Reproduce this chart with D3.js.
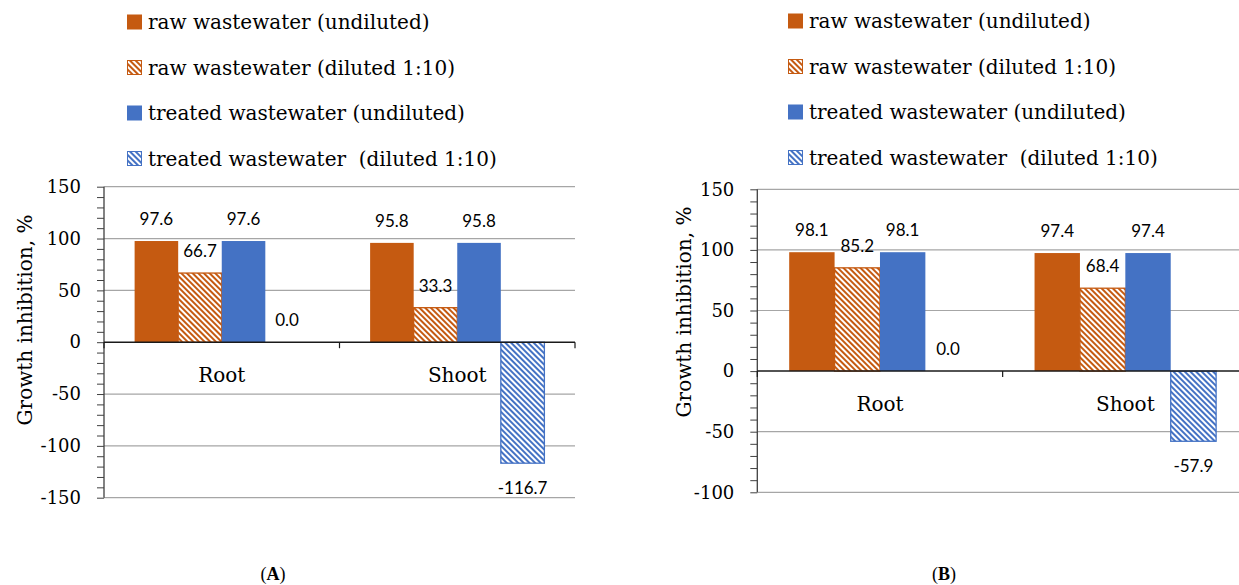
<!DOCTYPE html>
<html>
<head>
<meta charset="utf-8">
<script src="https://cdn.jsdelivr.net/npm/d3@7"></script>
<style>
  html, body { margin: 0; padding: 0; background: #ffffff; }
  svg { display: block; }
</style>
</head>
<body>
<script>
// Categories and series
const categories = ["Root", "Shoot"];
const seriesNames = [
  "raw wastewater (undiluted)",
  "raw wastewater (diluted 1:10)",
  "treated wastewater (undiluted)",
  "treated wastewater  (diluted 1:10)"
];

// Panel A: growth inhibition, %
const rawUndilutedA = [97.6, 95.8];
const rawDilutedA = [66.7, 33.3];
const treatedUndilutedA = [97.6, 95.8];
const treatedDilutedA = [0.0, -116.7];
const yTicksA = [-150, -100, -50, 0, 50, 100, 150];

// Panel B: growth inhibition, %
const rawUndilutedB = [98.1, 97.4];
const rawDilutedB = [85.2, 68.4];
const treatedUndilutedB = [98.1, 97.4];
const treatedDilutedB = [0.0, -57.9];
const yTicksB = [-100, -50, 0, 50, 100, 150];

const ORANGE = "#C55A11";
const BLUE = "#4472C4";
const seriesColors = [ORANGE, ORANGE, BLUE, BLUE];
const seriesHatched = [false, true, false, true];

const SERIF = "'DejaVu Serif', serif";
const SANS = "Lato, 'Open Sans', sans-serif";

const svg = d3.select("body").append("svg")
  .attr("width", 1239).attr("height", 585);

// Diagonal stripe fills for the diluted series
const defs = svg.append("defs");
function hatch(id, color) {
  const p = defs.append("pattern")
    .attr("id", id)
    .attr("patternUnits", "userSpaceOnUse")
    .attr("width", 4).attr("height", 4)
    .attr("patternTransform", "rotate(-45)");
  p.append("rect").attr("width", 4).attr("height", 4).attr("fill", color);
  p.append("rect").attr("x", 0).attr("y", 0).attr("width", 2).attr("height", 4).attr("fill", "#ffffff");
}
hatch("hatch-orange", ORANGE);
hatch("hatch-blue", BLUE);
const fills = ["", "url(#hatch-orange)", "", "url(#hatch-blue)"];

function drawPanel(cfg) {
  const g = svg.append("g");
  const series = cfg.series;

  const y = d3.scaleLinear()
    .domain([cfg.yMin, cfg.yMax])
    .range([cfg.bottom, cfg.top]);
  const x = d3.scaleBand()
    .domain(categories)
    .range([cfg.left, cfg.right])
    .padding(0);
  const cw = x.bandwidth();
  const gap = cw * 0.26;
  const xs = d3.scaleBand()
    .domain(d3.range(series.length))
    .range([gap / 2, cw - gap / 2])
    .padding(0);

  // Gridlines
  g.append("g").selectAll("line")
    .data(cfg.ticks.filter(t => t !== 0))
    .join("line")
    .attr("x1", cfg.left).attr("x2", cfg.right)
    .attr("y1", d => y(d)).attr("y2", d => y(d))
    .attr("stroke", "#A6A6A6").attr("stroke-width", 1.2);

  // Minor ticks every 10
  const minor = d3.range(cfg.yMin, cfg.yMax + 1, 10);
  const minorAxis = d3.axisLeft(y).tickValues(minor).tickSize(7).tickFormat("");
  const ma = g.append("g").attr("transform", `translate(${cfg.left},0)`).call(minorAxis);
  ma.select(".domain").remove();
  ma.selectAll(".tick line").attr("stroke", "#404040").attr("stroke-width", 1);

  // Major axis with labels (plain hyphen for negatives)
  const majorAxis = d3.axisLeft(y).tickValues(cfg.ticks).tickSize(0).tickPadding(23)
    .tickFormat(d => String(d));
  const mj = g.append("g").attr("transform", `translate(${cfg.left},0)`).call(majorAxis);
  mj.select(".domain").remove();
  mj.selectAll(".tick text")
    .attr("font-family", SERIF)
    .attr("font-size", 18)
    .attr("fill", "#000");

  // Vertical axis line
  g.append("line")
    .attr("x1", cfg.left).attr("x2", cfg.left)
    .attr("y1", y(cfg.yMax)).attr("y2", y(cfg.yMin))
    .attr("stroke", "#404040").attr("stroke-width", 1.3);

  // Bars
  series.forEach((vals, si) => {
    g.append("g").selectAll("rect")
      .data(vals.map((v, i) => ({ v, c: categories[i] })))
      .join("rect")
      .attr("x", d => x(d.c) + xs(si))
      .attr("width", xs.bandwidth())
      .attr("y", d => y(Math.max(0, d.v)))
      .attr("height", d => Math.abs(y(d.v) - y(0)))
      .attr("fill", seriesHatched[si] ? fills[si] : seriesColors[si])
      .attr("stroke", seriesHatched[si] ? seriesColors[si] : "none")
      .attr("stroke-width", seriesHatched[si] ? 1.3 : 0);
  });

  // Zero line and category ticks
  g.append("line")
    .attr("x1", cfg.left).attr("x2", cfg.right)
    .attr("y1", y(0)).attr("y2", y(0))
    .attr("stroke", "#1a1a1a").attr("stroke-width", 1.5);
  const bounds = [cfg.left].concat(categories.map(c => x(c) + cw));
  g.append("g").selectAll("line")
    .data(bounds)
    .join("line")
    .attr("x1", d => d).attr("x2", d => d)
    .attr("y1", y(0)).attr("y2", y(0) + 6)
    .attr("stroke", "#1a1a1a").attr("stroke-width", 1.2);

  // Category labels
  g.append("g").selectAll("text")
    .data(categories)
    .join("text")
    .attr("x", d => x(d) + cw / 2)
    .attr("y", y(0) + 33)
    .attr("dy", "0.35em")
    .attr("text-anchor", "middle")
    .attr("font-family", SERIF)
    .attr("font-size", 20)
    .text(d => d);

  // Value labels
  series.forEach((vals, si) => {
    g.append("g").selectAll("text")
      .data(vals.map((v, i) => ({ v, c: categories[i] })))
      .join("text")
      .attr("x", d => x(d.c) + xs(si) + xs.bandwidth() / 2)
      .attr("y", d => d.v < 0 ? y(d.v) + 25 : y(d.v) - 22)
      .attr("dy", "0.35em")
      .attr("text-anchor", "middle")
      .attr("font-family", SANS)
      .attr("font-size", 17)
      .attr("fill", "#000")
      .text(d => d.v.toFixed(1));
  });

  // Axis title
  g.append("text")
    .attr("transform", `translate(${cfg.titleX},${cfg.titleY}) rotate(-90)`)
    .attr("text-anchor", "middle")
    .attr("dy", "0.35em")
    .attr("font-family", SERIF)
    .attr("font-size", 20)
    .text("Growth inhibition, %");

  // Legend
  const lg = g.append("g").selectAll("g")
    .data(seriesNames)
    .join("g")
    .attr("transform", (d, i) => `translate(${cfg.legendX},${cfg.legendY0 + i * 45.5})`);
  lg.append("rect")
    .attr("x", 0.5).attr("y", -7)
    .attr("width", 14).attr("height", 14)
    .attr("fill", (d, i) => seriesHatched[i] ? fills[i] : seriesColors[i])
    .attr("stroke", (d, i) => seriesColors[i])
    .attr("stroke-width", 1);
  lg.append("text")
    .attr("x", 21)
    .attr("y", 0)
    .attr("dy", "0.35em")
    .attr("font-family", SERIF)
    .attr("font-size", 20)
    .style("white-space", "pre")
    .text(d => d);

  // Panel letter
  const lt = g.append("text")
    .attr("x", cfg.letterX)
    .attr("y", 574)
    .attr("dy", "0.35em")
    .attr("text-anchor", "middle")
    .attr("font-family", "'Liberation Serif', serif")
    .attr("font-size", 18);
  lt.append("tspan").text("(");
  lt.append("tspan").attr("font-weight", "bold").text(cfg.letter);
  lt.append("tspan").text(")");
}

drawPanel({
  series: [rawUndilutedA, rawDilutedA, treatedUndilutedA, treatedDilutedA],
  ticks: yTicksA,
  yMin: -150, yMax: 150,
  left: 104, right: 575, top: 186.7, bottom: 497.7,
  titleX: 25, titleY: 320,
  legendX: 127, legendY0: 22,
  letter: "A", letterX: 273
});

drawPanel({
  series: [rawUndilutedB, rawDilutedB, treatedUndilutedB, treatedDilutedB],
  ticks: yTicksB,
  yMin: -100, yMax: 150,
  left: 757.3, right: 1248, top: 189.3, bottom: 492.3,
  titleX: 684, titleY: 312,
  legendX: 788, legendY0: 21,
  letter: "B", letterX: 944
});
</script>
</body>
</html>
